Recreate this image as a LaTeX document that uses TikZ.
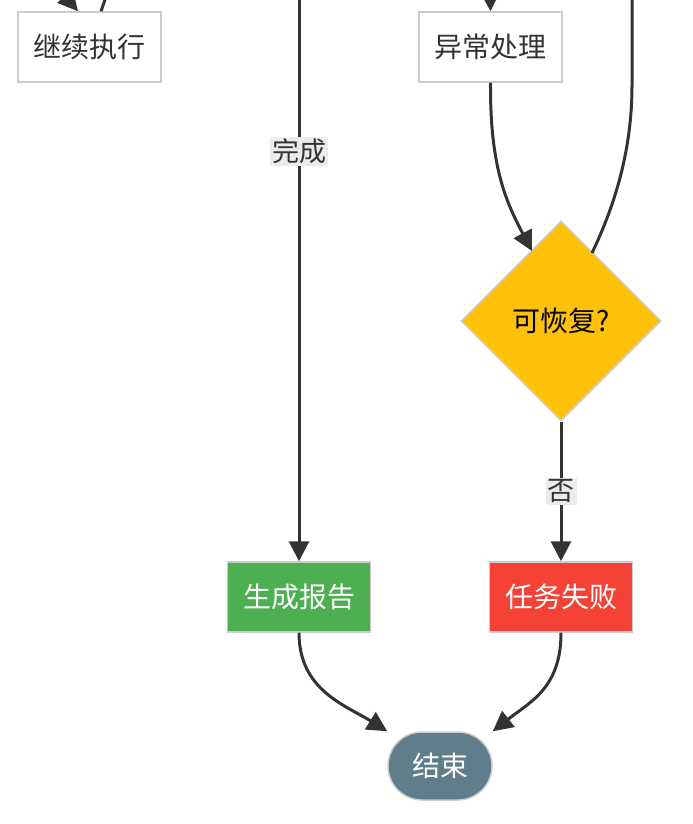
\documentclass[tikz,border=0pt]{standalone}
\usepackage{fontspec}
\newfontfamily\cjk{Noto Sans CJK SC}
\usetikzlibrary{arrows.meta,shapes.geometric}
\definecolor{edgecol}{HTML}{333333}
\definecolor{bordercol}{HTML}{CCCCCC}
\definecolor{okgreen}{HTML}{4CAF50}
\definecolor{failred}{HTML}{F44336}
\definecolor{amber}{HTML}{FFC107}
\definecolor{slate}{HTML}{607D8B}
\definecolor{labelbg}{HTML}{EBEBEB}
\tikzset{
  box/.style={draw=bordercol, line width=0.75pt, rectangle, minimum width=71.5pt,
    minimum height=35pt, inner sep=0pt, font=\cjk\fontsize{14}{16}\selectfont},
  plainbox/.style={box, fill=white, text=edgecol},
  goodbox/.style={box, fill=okgreen, text=white},
  badbox/.style={box, fill=failred, text=white},
  decision/.style={diamond, aspect=1, draw=bordercol, line width=0.75pt, fill=amber,
    minimum width=100pt, minimum height=100pt, inner sep=0pt, text=black,
    font=\cjk\fontsize{14}{16}\selectfont},
  terminal/.style={draw=bordercol, line width=0.75pt, fill=slate, text=white,
    rectangle, rounded corners=17pt, minimum width=52pt, minimum height=34pt,
    inner sep=0pt, font=\cjk\fontsize{14}{16}\selectfont},
  flow/.style={draw=edgecol, line width=1.5pt},
  arrow/.style={flow, -{Triangle[length=10pt, width=10pt]}},
  edgelabel/.style={fill=labelbg, text=edgecol, inner sep=1pt,
    font=\cjk\fontsize{13.5}{15}\selectfont}
}
\begin{document}
\begin{tikzpicture}[x=0.5pt, y=-0.5pt]
  \useasboundingbox (0,0) rectangle (692,824);
  \clip (0,0) rectangle (692,824);

  % nodes
  \node[plainbox] (cont) at (89.5,47) {继续执行};
  \node[plainbox] (exc)  at (490.5,47) {异常处理};
  \node[decision] (rec)  at (561,321) {可恢复?};
  \node[goodbox]  (rep)  at (299,597) {生成报告};
  \node[badbox]   (fail) at (561,597) {任务失败};
  \node[terminal] (stop) at (440,766) {结束};

  % edge ends that leave the drawing area
  \coordinate (inA)   at (58,-12);
  \coordinate (outA)  at (109,-12);
  \coordinate (inB)   at (490,-12);
  \coordinate (done)  at (299,-12);
  \coordinate (retry) at (632,-12);
  \coordinate (recIn)  at (532,251);
  \coordinate (recOut) at (592,253);

  % edges
  \draw[arrow] (inA) -- (cont.north -| 78,0);
  \draw[flow] (cont.north -| 101,0) -- (outA);
  \draw[arrow] (inB) -- (exc.north);
  \draw[arrow] (done) -- node[edgelabel, pos=0.285] {完成} (rep.north);
  \draw[arrow] (exc.south) .. controls (490,165) and (505,200) .. (recIn);
  \draw[flow] (recOut) .. controls (615,205) and (632,150) .. (632,85) -- (retry);
  \draw[arrow] (rec.south) -- node[edgelabel] {否} (fail.north);
  \draw[arrow] (rep.south) .. controls (299,690) and (345,705) .. (stop.north west);
  \draw[arrow] (fail.south) .. controls (561,688) and (530,702) .. (stop.north east);
\end{tikzpicture}
\end{document}
